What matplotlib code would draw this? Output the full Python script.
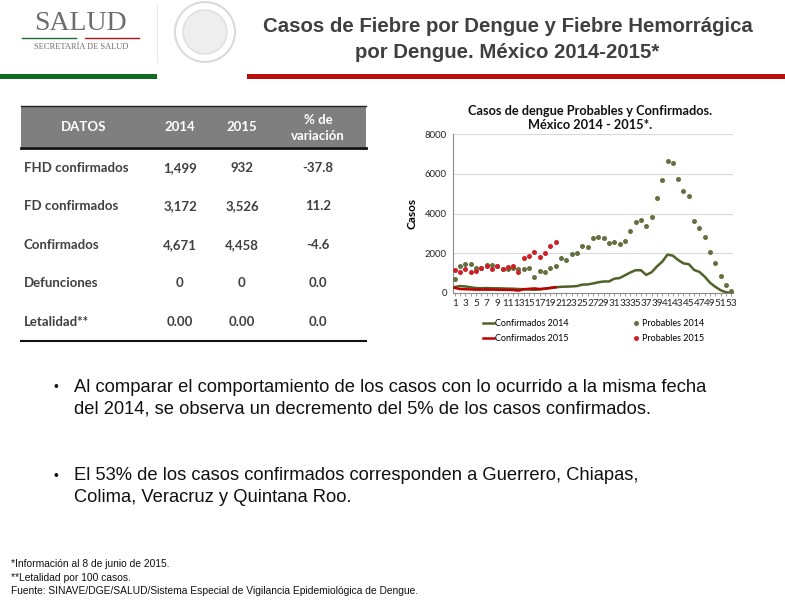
import matplotlib
matplotlib.use("Agg")
import matplotlib.pyplot as plt
from matplotlib.patches import Rectangle, Circle

# semanas epidemiologicas
semanas = list(range(1, 54))
semanas_2015 = list(range(1, 21))

probables_2014 = [720, 1345, 1460, 1445, 1280, 1260, 1395, 1428, 1345, 1227,
                  1193, 1244, 1193, 1227, 1244, 790, 1109, 1059, 1277, 1361,
                  1781, 1647, 1950, 2034, 2353, 2319, 2773, 2823, 2790, 2521,
                  2555, 2454, 2630, 3128, 3570, 3660, 3365, 3820, 4790, 5690,
                  6660, 6540, 5720, 5140, 4890, 3630, 3280, 2820, 2060, 1510,
                  850, 400, 120]
confirmados_2014 = [300, 350, 330, 290, 250, 240, 250, 240, 235, 230,
                    220, 215, 200, 190, 175, 160, 180, 220, 260, 290,
                    310, 320, 330, 350, 420, 430, 480, 540, 580, 580,
                    720, 750, 890, 1030, 1145, 1145, 910, 1043, 1333, 1573,
                    1930, 1880, 1660, 1490, 1450, 1160, 1060, 820, 513, 308,
                    137, 34, 0]
probables_2015 = [1176, 1042, 1210, 1042, 1109, 1277, 1361, 1227, 1378, 1227,
                  1294, 1361, 1042, 1765, 1849, 2084, 1798, 2000, 2353, 2571]
confirmados_2015 = [260, 200, 190, 180, 170, 170, 170, 170, 165, 160,
                    160, 150, 120, 190, 210, 230, 200, 220, 250, 290]

filas = ["FHD confirmados", "FD confirmados", "Confirmados", "Defunciones", "Letalidad**"]
col_2014 = ["1,499", "3,172", "4,671", "0", "0.00"]
col_2015 = ["932", "3,526", "4,458", "0", "0.00"]
variacion = ["-37.8", "11.2", "-4.6", "0.0", "0.0"]

W, H = 785, 607
fig = plt.figure(figsize=(W / 100, H / 100), dpi=100)
bg = fig.add_axes([0, 0, 1, 1])
bg.set_xlim(0, W)
bg.set_ylim(H, 0)
bg.axis("off")

texto = "#404040"
arial = ["Liberation Sans Narrow", "Liberation Sans"]
calibri = ["Lato", "DejaVu Sans"]

# encabezado
bg.text(80, 23, "SALUD", family="Liberation Serif", fontsize=20, color="#6d6d6d",
        ha="center", va="center")
bg.plot([22, 76], [38, 38], color="#1e6b2e", lw=1)
bg.plot([85, 139], [38, 38], color="#b5121b", lw=1)
bg.text(81, 47, "SECRETARÍA DE SALUD", family="Liberation Serif", fontsize=6,
        color="#6d6d6d", ha="center", va="center")
bg.plot([157, 157], [4, 62], color="#e8e8e8", lw=0.8)
bg.add_patch(Circle((205, 32), 30, fill=False, ec="#dadada", lw=1.5))
bg.add_patch(Circle((205, 32), 22, fill=True, fc="#eeeeee", ec="#dddddd", lw=1))

bg.text(508, 26, "Casos de Fiebre por Dengue y Fiebre Hemorrágica", family=arial,
        fontsize=14.7, fontweight="bold", color=texto, ha="center", va="center")
bg.text(507, 52, "por Dengue. México 2014-2015*", family=arial,
        fontsize=14.7, fontweight="bold", color=texto, ha="center", va="center")
bg.add_patch(Rectangle((0, 74), 157, 5, color="#0f6b1e", lw=0))
bg.add_patch(Rectangle((247, 74), W - 247, 5, color="#b70f0f", lw=0))

# tabla
bg.add_patch(Rectangle((21, 106), 345, 41, color="#7f7f7f", lw=0))
bg.plot([21, 366], [106, 106], color="#222222", lw=1)
bg.plot([21, 366], [147.5, 147.5], color="#111111", lw=2)
bg.plot([21, 366], [341, 341], color="#111111", lw=1.5)
hdr = dict(family=calibri, fontsize=9.5, fontweight="bold", color="white",
           ha="center", va="center")
bg.text(84, 127, "DATOS", **hdr)
bg.text(180, 127, "2014", **hdr)
bg.text(242, 127, "2015", **hdr)
bg.text(318, 128, "% de\nvariación", linespacing=1.5, **hdr)
ys = [168, 206, 245, 283, 322]
for y, f, a, b, v in zip(ys, filas, col_2014, col_2015, variacion):
    kw = dict(family=calibri, fontsize=9.5, fontweight="bold", color=texto, va="center")
    bg.text(24, y, f, ha="left", **kw)
    bg.text(180, y, a, ha="center", **kw)
    bg.text(242, y, b, ha="center", **kw)
    bg.text(318, y, v, ha="center", **kw)

# viñetas
bg.text(53, 387, "•", family="Liberation Sans", fontsize=10, color="#111111", va="center")
bg.text(74, 387, "Al comparar el comportamiento de los casos con lo ocurrido a la misma fecha",
        family=arial, fontsize=13.2, color="#111111", va="center")
bg.text(74, 409, "del 2014, se observa un decremento del 5% de los casos confirmados.",
        family=arial, fontsize=13.2, color="#111111", va="center")
bg.text(53, 476, "•", family="Liberation Sans", fontsize=10, color="#111111", va="center")
bg.text(74, 476, "El 53% de los casos confirmados corresponden a Guerrero, Chiapas,",
        family=arial, fontsize=13.2, color="#111111", va="center")
bg.text(74, 497, "Colima, Veracruz y Quintana Roo.",
        family=arial, fontsize=13.2, color="#111111", va="center")

bg.text(11, 564, "*Información al 8 de junio de 2015.", family=arial, fontsize=7.4,
        color="#111111", va="center")
bg.text(11, 578, "**Letalidad por 100 casos.", family=arial, fontsize=7.4,
        color="#111111", va="center")
bg.text(11, 591, "Fuente: SINAVE/DGE/SALUD/Sistema Especial de Vigilancia Epidemiológica de Dengue.",
        family=arial, fontsize=7.4, color="#111111", va="center")

# grafica
ax = fig.add_axes([452.5 / W, 1 - 293 / H, 281 / W, 159 / H])
verde_l = "#4f6228"
verde_p = "#63703f"
rojo_l = "#c00000"
rojo_p = "#cf2027"
l1, = ax.plot(semanas, confirmados_2014, color=verde_l, lw=1.8, label="Confirmados 2014", zorder=3)
l2, = ax.plot(semanas_2015, confirmados_2015, color=rojo_l, lw=1.8, label="Confirmados 2015", zorder=4)
p1, = ax.plot(semanas, probables_2014, "o", color=verde_p, ms=3.6, mec="none",
              label="Probables 2014", zorder=5)
p2, = ax.plot(semanas_2015, probables_2015, "o", color=rojo_p, ms=3.6, mec="none",
              label="Probables 2015", zorder=6)
ax.set_xlim(0.6, 53.4)
ax.set_ylim(0, 8000)
ax.set_yticks([0, 2000, 4000, 6000, 8000])
ax.set_xticks(semanas[::2])
ax.set_xticks(semanas[1::2], minor=True)
ax.grid(axis="y", color="#d9d9d9", lw=0.8)
ax.set_axisbelow(True)
for s in ["top", "right"]:
    ax.spines[s].set_visible(False)
for s in ["left", "bottom"]:
    ax.spines[s].set_color("#8c8c8c")
    ax.spines[s].set_linewidth(0.8)
ax.tick_params(axis="both", which="both", length=2, width=0.6, color="#8c8c8c",
               labelsize=7.2, pad=2)
ax.tick_params(axis="y", length=0, pad=4, labelsize=6.8)
for lab in ax.get_xticklabels() + ax.get_yticklabels():
    lab.set_family(calibri)
    lab.set_color("#222222")
ax.set_ylabel("Casos", family=calibri, fontsize=8.5, fontweight="bold", labelpad=5)
fig.text(590 / W, 1 - 118 / H, "Casos de dengue Probables y Confirmados.\nMéxico 2014 - 2015*.",
         family=calibri, fontsize=9.2, fontweight="bold", ha="center", va="center",
         linespacing=1.25, color="#111111")
ax.legend([l1, l2, p1, p2], ["Confirmados 2014", "Confirmados 2015", "Probables 2014", "Probables 2015"],
          loc="upper left", bbox_to_anchor=(483 / W, 1 - 319 / H), bbox_transform=fig.transFigure,
          ncol=2, frameon=False, prop={"family": calibri, "size": 6.5},
          borderpad=0, borderaxespad=0, handlelength=1.2, handletextpad=0.15,
          columnspacing=6.8, labelspacing=0.65, markerscale=1.0)

fig.savefig("out.png", dpi=100)
